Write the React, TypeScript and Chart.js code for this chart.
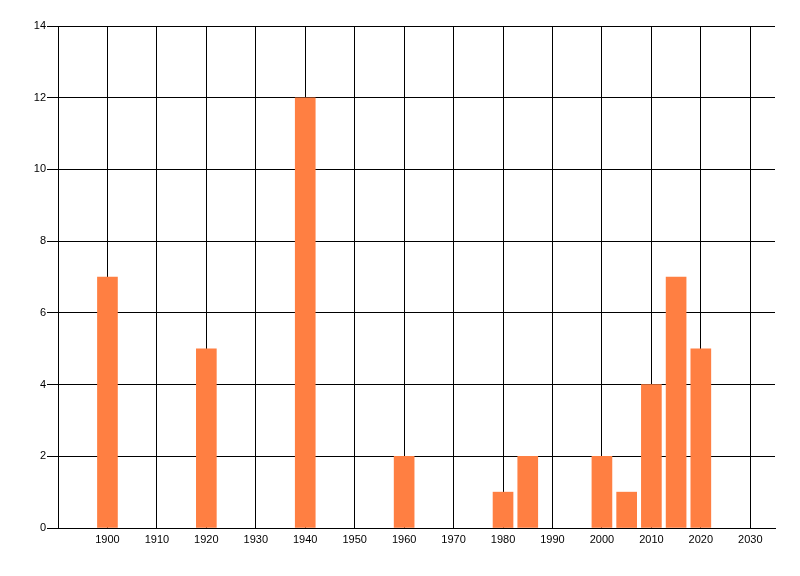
import React, { useEffect, useRef } from "react";
import { Chart, registerables } from "chart.js";

Chart.register(...registerables);

const years: number[] = [1900, 1920, 1940, 1960, 1980, 1985, 2000, 2005, 2010, 2015, 2020];
const counts: number[] = [7, 5, 12, 2, 1, 2, 2, 1, 4, 7, 5];
const xTicks: number[] = [1900, 1910, 1920, 1930, 1940, 1950, 1960, 1970, 1980, 1990, 2000, 2010, 2020, 2030];
const xMin = 1890;
const xMax = 2035;
const yMax = 14;

export default function App() {
  const ref = useRef<HTMLCanvasElement | null>(null);
  useEffect(() => {
    if (!ref.current) return;
    const font = { family: "'Liberation Sans', Arial, sans-serif", size: 11 };
    const chart = new Chart(ref.current, {
      type: "bar",
      data: {
        datasets: [
          {
            data: years.map((x, i) => ({ x, y: counts[i] })),
            backgroundColor: "#FF7F42",
            borderWidth: 0,
            barThickness: 20,
          },
        ],
      },
      options: {
        animation: false,
        responsive: false,
        maintainAspectRatio: false,
        layout: { padding: { top: 26, right: 25, left: 0, bottom: 0 } },
        plugins: { legend: { display: false }, tooltip: { enabled: false } },
        scales: {
          x: {
            type: "linear",
            min: xMin,
            max: xMax,
            offset: false,
            afterBuildTicks: (s: any) => {
              s.ticks = xTicks.map((v) => ({ value: v }));
            },
            afterFit: (s: any) => {
              s.height = 48;
            },
            ticks: {
              stepSize: 10,
              color: "#000",
              font,
              padding: 5,
              maxRotation: 0,
              autoSkip: false,
              callback: (v: any) => String(v),
            },
            grid: { color: "#000", lineWidth: 1, drawTicks: false, offset: false },
            border: { display: true, color: "#000", width: 1 },
          },
          y: {
            min: 0,
            max: yMax,
            afterFit: (s: any) => {
              s.width = 58;
            },
            ticks: { stepSize: 2, color: "#000", font, padding: 1 },
            grid: { color: "#000", lineWidth: 1, tickLength: 11, drawTicks: true },
            border: { display: true, color: "#000", width: 1 },
          },
        },
      },
    } as any);
    return () => chart.destroy();
  }, []);
  return (
    <div style={{ position: "fixed", left: 0, top: 0, width: 800, height: 576, background: "#fff" }}>
      <canvas ref={ref} width={800} height={576} style={{ width: 800, height: 576, display: "block" }} />
    </div>
  );
}
